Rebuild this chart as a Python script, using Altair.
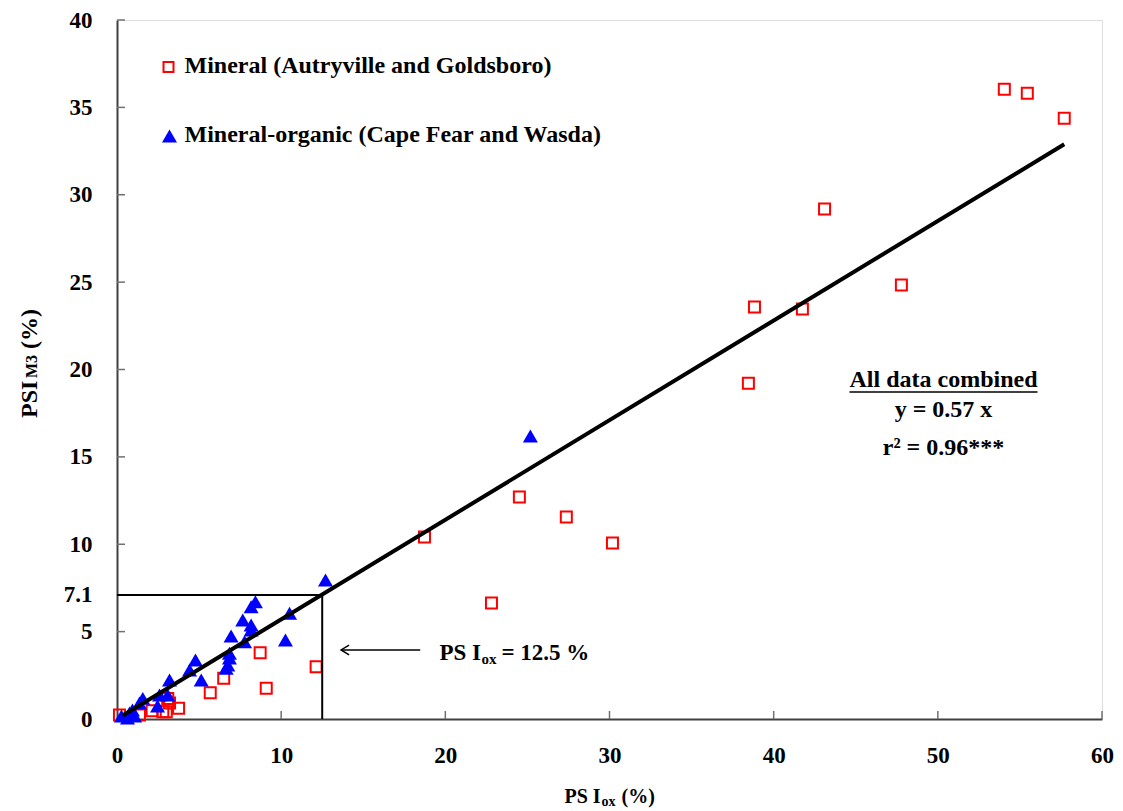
import altair as alt
import pandas as pd

# Mineral soils (Autryville and Goldsboro): PSI_ox vs PSI_M3, %
mineral_x = [54.05, 55.45, 57.7, 43.1, 47.78, 38.83, 41.75, 38.46, 24.51, 27.37,
             30.18, 18.73, 22.81, 8.72, 12.13, 9.09, 6.5, 5.68, 3.75, 3.0,
             2.79, 2.14, 3.09, 3.2, 1.37, 0.15]
mineral_y = [36.04, 35.81, 34.38, 29.18, 24.83, 23.57, 23.46, 19.22, 12.7, 11.56,
             10.07, 10.41, 6.64, 3.79, 2.99, 1.76, 2.33, 1.5, 0.61, 0.42,
             0.42, 0.47, 1.18, 0.92, 0.23, 0.23]

# Mineral-organic soils (Cape Fear and Wasda)
organic_x = [25.18, 12.7, 8.43, 8.17, 10.51, 7.66, 8.17, 8.17, 6.95, 7.77,
             10.26, 6.85, 6.85, 6.75, 6.65, 4.78, 4.42, 5.13, 3.2, 3.09,
             2.59, 1.57, 1.37, 0.76, 0.27, 0.64, 1.07, 2.47, 0.94]
organic_y = [16.19, 7.95, 6.71, 6.42, 6.05, 5.66, 5.38, 5.09, 4.75, 4.42,
             4.52, 3.76, 3.49, 3.09, 2.9, 3.38, 2.8, 2.23, 2.23, 1.37,
             1.37, 1.18, 0.92, 0.34, 0.17, 0.06, 0.17, 0.74, 0.51]

# Regression through the origin, all data combined
slope = 0.57
fit_x = [0.35, 57.7]

# Threshold read-off
psi_ox_threshold = 12.5
psi_m3_threshold = 7.1

x_ticks = [0, 10, 20, 30, 40, 50, 60]
y_ticks = [0, 5, 7.1, 10, 15, 20, 25, 30, 35, 40]

W, H = 985, 699
FONT = "Liberation Serif"
FS = 24

xs = alt.Scale(domain=[0, 60], nice=False)
ys = alt.Scale(domain=[0, 40], nice=False)

x_axis = alt.Axis(values=x_ticks, title=None, ticks=False, grid=False, format="~g",
                  labelFont=FONT, labelFontSize=23, labelFontWeight="bold",
                  labelColor="black", labelPadding=25, labelFlush=False,
                  labelOverlap=False, domainColor="#404040", domainWidth=2)
y_axis = alt.Axis(values=y_ticks, title=None, ticks=False, grid=False, format="~g",
                  labelFont=FONT, labelFontSize=23, labelFontWeight="bold",
                  labelColor="black", labelPadding=25, labelFlush=False,
                  labelOverlap=False, domainColor="#404040", domainWidth=2)

mineral_df = pd.DataFrame({"x": mineral_x, "y": mineral_y})
organic_df = pd.DataFrame({"x": organic_x, "y": organic_y})
fit_df = pd.DataFrame({"x": fit_x, "y": [slope * v for v in fit_x]})

squares = alt.Chart(mineral_df).mark_point(
    shape="square", size=121, filled=False, stroke="#ff0000", strokeWidth=2, opacity=1
).encode(x=alt.X("x:Q", scale=xs, axis=x_axis), y=alt.Y("y:Q", scale=ys, axis=y_axis))

triangles = alt.Chart(organic_df).mark_point(
    shape="triangle-up", size=225, filled=True, fill="#0000ff", stroke=None, opacity=1
).encode(x=alt.X("x:Q", scale=xs), y=alt.Y("y:Q", scale=ys))

fit_line = alt.Chart(fit_df).mark_line(color="black", strokeWidth=4).encode(
    x=alt.X("x:Q", scale=xs), y=alt.Y("y:Q", scale=ys))

# Threshold guide lines
h_ref = alt.Chart(pd.DataFrame({"x": [0], "x2": [psi_ox_threshold], "y": [psi_m3_threshold]})).mark_rule(
    color="black", strokeWidth=2).encode(x=alt.X("x:Q", scale=xs), x2="x2:Q", y=alt.Y("y:Q", scale=ys))
v_ref = alt.Chart(pd.DataFrame({"x": [psi_ox_threshold], "y": [0], "y2": [psi_m3_threshold]})).mark_rule(
    color="black", strokeWidth=2).encode(x=alt.X("x:Q", scale=xs), y=alt.Y("y:Q", scale=ys), y2="y2:Q")

# Inward tick marks
x_tick_marks = alt.Chart(pd.DataFrame({"v": x_ticks[1:]})).mark_rule(
    color="#707070", strokeWidth=1.5).encode(
    x=alt.X("v:Q", scale=xs), y=alt.value(H), y2=alt.value(H - 8))
y_tick_marks = alt.Chart(pd.DataFrame({"v": [t for t in y_ticks[1:] if t != psi_m3_threshold]})).mark_rule(
    color="#707070", strokeWidth=1.5).encode(
    y=alt.Y("v:Q", scale=ys), x=alt.value(0), x2=alt.value(8))

# Arrow pointing to the PSI_ox threshold
arrow_df = pd.DataFrame({"x": [13.65, 18.47], "y": [3.95, 3.95]})
arrow_shaft = alt.Chart(arrow_df).mark_line(color="black", strokeWidth=1.5).encode(
    x=alt.X("x:Q", scale=xs), y=alt.Y("y:Q", scale=ys))
arrow_head = alt.Chart(arrow_df.iloc[[0]]).mark_point(
    shape="M 1 -0.6 L 0 0 L 1 0.6", size=256, filled=False, stroke="black",
    strokeWidth=1.5, opacity=1).encode(x=alt.X("x:Q", scale=xs), y=alt.Y("y:Q", scale=ys))


def label(text, px, py, size=FS, align="left", angle=0, baseline="alphabetic"):
    return alt.Chart(pd.DataFrame({"t": [text]})).mark_text(
        font=FONT, fontSize=size, fontWeight="bold", color="black",
        align=align, baseline=baseline, angle=angle
    ).encode(x=alt.value(px), y=alt.value(py), text="t:N")


def symbol(shape, px, py, size, filled, color):
    kw = dict(fill=color, stroke=None) if filled else dict(stroke=color, strokeWidth=2)
    return alt.Chart(pd.DataFrame({"s": [0]})).mark_point(
        shape=shape, size=size, filled=filled, opacity=1, **kw
    ).encode(x=alt.value(px), y=alt.value(py))


texts = [
    # legend
    symbol("square", 51.5, 47, 100, False, "#ff0000"),
    label("Mineral (Autryville and Goldsboro)", 67.5, 46, baseline="middle"),
    symbol("triangle-up", 52.5, 116, 225, True, "#0000ff"),
    label("Mineral-organic (Cape Fear and Wasda)", 67.5, 115, baseline="middle"),
    # regression statistics
    label("All data combined", 826.5, 367, align="center"),
    label("y = 0.57 x", 826.5, 397, align="center"),
    label("r\u00b2 = 0.96***", 826.5, 435, align="center"),
    # threshold annotation
    label("PS I", 322.5, 640, size=23),
    label("ox", 364.5, 644, size=15),
    label("= 12.5 %", 384.5, 640, size=23),
    # x-axis title
    label("PS I", 447.5, 783, size=20),
    label("ox", 484.5, 786, size=14),
    label("(%)", 504.5, 783, size=20),
    # y-axis title
    label("PSI", -80.5, 398, size=24, angle=270),
    label("M3", -80.5, 358, size=16, angle=270),
    label("(%)", -80.5, 329, size=24, angle=270),
]

underline = alt.Chart(pd.DataFrame({"s": [0]})).mark_rule(color="black", strokeWidth=1.5).encode(
    x=alt.value(732.5), x2=alt.value(920.5), y=alt.value(372))

chart = alt.layer(
    squares, triangles, h_ref, v_ref, fit_line, x_tick_marks, y_tick_marks,
    arrow_shaft, arrow_head, underline, *texts
).properties(
    width=W, height=H,
    autosize=alt.AutoSizeParams(type="none"),
    padding={"left": 117, "top": 20, "right": 21, "bottom": 92},
).configure_view(stroke=None).configure(background="white")

chart.save("out.html", embed_options={"renderer": "svg", "actions": False})
